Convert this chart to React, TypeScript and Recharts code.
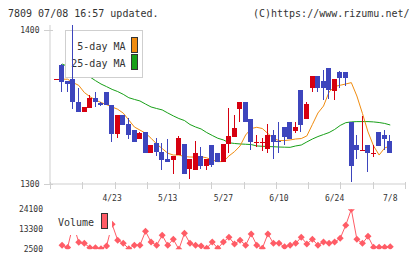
import { Bar, ComposedChart, Line, XAxis, YAxis } from "recharts";

// Trading sessions, oldest first
const dates = [
  "4/9", "4/10", "4/11", "4/12", "4/15", "4/16", "4/17", "4/18", "4/19", "4/22",
  "4/23", "4/24", "4/25", "4/26", "4/30", "5/1", "5/2", "5/7", "5/8", "5/9",
  "5/13", "5/14", "5/15", "5/16", "5/17", "5/20", "5/21", "5/22", "5/23", "5/24",
  "5/27", "5/28", "5/29", "5/30", "5/31", "6/3", "6/4", "6/5", "6/6", "6/7",
  "6/10", "6/11", "6/12", "6/13", "6/14", "6/17", "6/18", "6/19", "6/20", "6/21",
  "6/24", "6/25", "6/26", "6/27", "6/28", "7/1", "7/2", "7/3", "7/4", "7/5", "7/8",
];

const opens = [
  1368, 1377, 1367, 1368, 1353, 1347, 1349.5, 1356, 1352.5, 1359.5,
  1351, 1332.5, 1345, 1339, 1335, 1329, 1334, 1320, 1326.5, 1320.5,
  1316, 1315.5, 1319, 1326, 1310, 1309, 1318, 1312, 1325, 1320,
  1314.5, 1326, 1330.5, 1349, 1353.5, 1342.5, 1327, 1327, 1323, 1332,
  1328, 1337, 1340.5, 1334.5, 1361, 1342, 1362.5, 1370, 1367, 1375,
  1360.5, 1372.5, 1372.5, 1340.5, 1325.5, 1322, 1325.5, 1320, 1333.5, 1332, 1328,
];
const highs = [
  1368, 1378, 1367, 1403, 1362, 1350, 1357.5, 1360, 1353, 1359.5,
  1351, 1344.5, 1345, 1343, 1335, 1334, 1334, 1325.5, 1330, 1326.5,
  1329.5, 1318, 1331, 1326, 1316, 1328, 1324, 1316, 1325, 1320,
  1326, 1349.5, 1345, 1353.5, 1353.5, 1342.5, 1332, 1330, 1339, 1335,
  1340.5, 1337, 1340.5, 1340.5, 1361, 1353.5, 1370, 1370, 1374, 1375,
  1368, 1373.5, 1372.5, 1340.5, 1332, 1344, 1325.5, 1325.5, 1333.5, 1335, 1332,
];
const lows = [
  1368, 1360, 1360, 1348.5, 1347, 1347, 1349.5, 1350, 1350.5, 1351,
  1327, 1330, 1338, 1329, 1327.5, 1329, 1320, 1320, 1318, 1309,
  1314.5, 1306.5, 1319, 1306.5, 1303, 1309, 1310, 1309, 1311, 1314.5,
  1314.5, 1320, 1330.5, 1340.5, 1340, 1322, 1324, 1321.5, 1320, 1316.5,
  1320, 1325.5, 1329.5, 1333, 1333.5, 1342, 1360, 1360, 1354.5, 1355,
  1354.5, 1362, 1363.5, 1301, 1316.5, 1322, 1307.5, 1317.5, 1324.5, 1322, 1320,
];
const closes = [
  1368, 1366, 1365, 1353.5, 1347, 1350, 1356, 1353, 1351, 1351,
  1332.5, 1344.5, 1338, 1331.5, 1327.5, 1333, 1320, 1325.5, 1320.5, 1315.5,
  1314.5, 1318, 1330, 1306.5, 1316, 1320, 1311.5, 1316, 1312.5, 1314.5,
  1326, 1331, 1336.5, 1353.5, 1340, 1327, 1327, 1327, 1332, 1327.5,
  1327, 1330.5, 1329.5, 1337, 1338.5, 1352, 1370, 1362, 1362, 1361,
  1368, 1369, 1369, 1311.5, 1322, 1322, 1320, 1320, 1324.5, 1329.5, 1320,
];

const ma5 = [
  null, 1368, 1368, 1365.8, 1364, 1359.4, 1356.7, 1354.5, 1352.9, 1351.5,
  1350, 1348.5, 1346, 1341.5, 1337, 1335, 1333, 1329.7, 1326, 1323,
  1320, 1318.8, 1318.8, 1317.8, 1317.5, 1317.5, 1317.7, 1317, 1315.6, 1314.5,
  1314.6, 1318.2, 1321, 1324.7, 1331.8, 1336, 1336.8, 1336, 1332.8, 1329.5,
  1328.2, 1328.2, 1328.6, 1329.2, 1329.5, 1331.2, 1338.6, 1346.1, 1350.6, 1359.7,
  1363.3, 1364.1, 1364.9, 1365.8, 1357.1, 1345.8, 1333.8, 1324.7, 1318.8, 1323.4, 1324.7,
];
const ma25 = [
  null, 1377.9, 1376.3, 1374.7, 1373.1, 1371.4, 1369.5, 1367.1, 1364.9, 1363.2,
  1361.4, 1360, 1358.2, 1356, 1354.9, 1353.9, 1351.9, 1350, 1349, 1348.1,
  1346.1, 1344.2, 1342.5, 1341.2, 1338.6, 1337, 1335.7, 1333.4, 1331.5, 1329.7,
  1328.6, 1326.8, 1326.3, 1326, 1325.8, 1325.6, 1324.7, 1324.5, 1324.3, 1324.2,
  1324, 1323.9, 1323.8, 1324.7, 1325.3, 1327.3, 1329.2, 1330.8, 1332.1, 1333.4,
  1335.4, 1338, 1339.8, 1340.3, 1340.5, 1340.5, 1340.5, 1340.3, 1339.9, 1339.3, 1338.3,
];

const volumes = [
  null, 4700, 3500, 16000, 6300, 5700, 3400, 3400, 2800, 4300,
  16000, 7400, 5700, 2800, 4700, 4700, 12200, 6400, 4700, 10100,
  4700, 7900, 2500, 11100, 5700, 4700, 4300, 3000, 6400, 3000,
  6400, 9000, 5400, 7400, 4700, 10800, 4700, 3000, 10800, 5700,
  5700, 3900, 4700, 5700, 9000, 5400, 7900, 4700, 6400, 5700,
  6400, 8400, 15500, 24100, 7900, 5700, 9500, 3600, 3600, 3600, 3900,
];

const dateTicks = ["4/23", "5/13", "5/27", "6/10", "6/24", "7/8"];
const priceTicks = [1300, 1400];
const volumeTicks = [2500, 13300, 24100];
const gridTicks = [0, 1, 2, 3, 4, 5, 6, 7, 8, 9, 10, 11];

const rows = dates.map((date, i) => ({
  date,
  open: opens[i],
  high: highs[i],
  low: lows[i],
  close: closes[i],
  range: [lows[i], highs[i]],
  ma5: ma5[i],
  ma25: ma25[i],
  volume: volumes[i],
}));

// the frame layer only needs its grid positions on a numeric axis
const gridRows = gridTicks.map((k) => ({ k, base: priceTicks[0] }));

const W = 420;
const H = 259;
const MONO = '"DejaVu Sans Mono", monospace';
const TEXT = "#333";
const AXIS = "#cfcfcf";
const UP = "#d60010";
const DOWN = "#3d45bd";
const MA5 = "#f08c10";
const MA25 = "#18a018";
const VOL = "#ff5c66";

const PRICE_DOMAIN: [number, number] = [1300, 1403.2];
const MAIN_MARGIN = { top: 25, right: 15, bottom: 55, left: 0 };
const VOL_MARGIN = { top: 209.3, right: 15, bottom: 9.7, left: 0 };
const X_PAD = { left: 3.72, right: 11.96 };

function Candle(props: any) {
  const { x, y, width, height, payload } = props;
  if (x == null || y == null || !payload) return null;
  const { open, close, high, low } = payload;
  const color = close >= open ? UP : DOWN;
  const k = high > low ? height / (high - low) : 0;
  const py = (p: number) => y + (high - p) * k;
  const left = Math.round(x);
  const w = Math.max(1, Math.round(width));
  const mid = left + Math.floor(w / 2);
  const wickTop = Math.round(y);
  const wickBottom = Math.round(y + height);
  const top = Math.round(py(Math.max(open, close)));
  const bottom = Math.round(py(Math.min(open, close)));
  return (
    <g shapeRendering="crispEdges">
      <rect x={mid} y={wickTop} width={1} height={Math.max(1, wickBottom - wickTop)} fill={color} />
      <rect x={left} y={top} width={w} height={Math.max(1, bottom - top)} fill={color} />
    </g>
  );
}

function Diamond(props: any) {
  const { cx, cy, value } = props;
  if (cx == null || cy == null || value == null) return <g />;
  const r = 3.5;
  return (
    <polygon
      points={`${cx},${cy - r} ${cx + r},${cy} ${cx},${cy + r} ${cx - r},${cy}`}
      fill={VOL}
    />
  );
}

// small marks crossing the bottom axis line
function GridTick(props: any) {
  const { x, y } = props;
  const px = Math.round(x) + 0.5;
  return <line x1={px} x2={px} y1={y - 2} y2={y + 5} stroke={AXIS} />;
}

function PriceTick(props: any) {
  const { x, y, payload } = props;
  const py = Math.round(y) + 0.5;
  return (
    <g>
      <line x1={x - 6} x2={x + 3} y1={py} y2={py} stroke={AXIS} />
      <text x={x - 10.5} y={y + 3} textAnchor="end" fontSize={8} fontFamily={MONO} fill={TEXT}>
        {payload.value}
      </text>
    </g>
  );
}

// axis lines, price labels and the evenly spaced bottom marks
function Frame() {
  return (
    <ComposedChart width={W} height={H} data={gridRows} margin={MAIN_MARGIN}>
      <XAxis
        dataKey="k"
        type="number"
        domain={[0, 11]}
        ticks={gridTicks}
        interval={0}
        allowDataOverflow
        height={20}
        axisLine={{ stroke: AXIS }}
        tickLine={false}
        tickSize={0}
        tickMargin={0}
        tick={GridTick}
      />
      <YAxis
        domain={PRICE_DOMAIN}
        allowDataOverflow
        ticks={priceTicks}
        interval={0}
        width={50}
        axisLine={{ stroke: AXIS }}
        tickLine={false}
        tickSize={0}
        tickMargin={0}
        tick={PriceTick}
      />
      <Line dataKey="base" stroke="none" dot={false} activeDot={false} isAnimationActive={false} />
    </ComposedChart>
  );
}

function PriceLines() {
  return (
    <ComposedChart width={W} height={H} data={rows} margin={MAIN_MARGIN}>
      <XAxis
        dataKey="date"
        type="category"
        scale="band"
        padding={X_PAD}
        ticks={dateTicks}
        interval={0}
        height={20}
        axisLine={false}
        tickLine={false}
        tickSize={0}
        tickMargin={11}
        tick={{ fill: TEXT, fontSize: 8, fontFamily: MONO }}
      />
      <YAxis
        domain={PRICE_DOMAIN}
        allowDataOverflow
        width={50}
        axisLine={false}
        tickLine={false}
        tick={false}
      />
      <Line
        dataKey="ma25"
        type="linear"
        stroke={MA25}
        strokeWidth={1}
        dot={false}
        activeDot={false}
        connectNulls={false}
        isAnimationActive={false}
      />
      <Line
        dataKey="ma5"
        type="linear"
        stroke={MA5}
        strokeWidth={1}
        dot={false}
        activeDot={false}
        connectNulls={false}
        isAnimationActive={false}
      />
    </ComposedChart>
  );
}

// candles sit in their own layer, above the MA legend box
function Candles() {
  return (
    <ComposedChart width={W} height={H} data={rows} margin={MAIN_MARGIN}>
      <XAxis
        dataKey="date"
        type="category"
        scale="band"
        padding={X_PAD}
        height={20}
        axisLine={false}
        tickLine={false}
        tick={false}
      />
      <YAxis
        domain={PRICE_DOMAIN}
        allowDataOverflow
        width={50}
        axisLine={false}
        tickLine={false}
        tick={false}
      />
      <Bar dataKey="range" barSize={5} shape={Candle} isAnimationActive={false} />
    </ComposedChart>
  );
}

function VolumeChart() {
  return (
    <ComposedChart width={W} height={H} data={rows} margin={VOL_MARGIN}>
      <XAxis dataKey="date" type="category" scale="band" padding={X_PAD} hide />
      <YAxis
        domain={[2500, 24100]}
        allowDataOverflow
        ticks={volumeTicks}
        interval={0}
        width={50}
        axisLine={false}
        tickLine={false}
        tickSize={0}
        tickMargin={7}
        tick={{ fill: TEXT, fontSize: 8, fontFamily: MONO }}
      />
      <Line
        dataKey="volume"
        type="linear"
        stroke={VOL}
        strokeWidth={1}
        dot={Diamond}
        activeDot={false}
        connectNulls={false}
        isAnimationActive={false}
      />
    </ComposedChart>
  );
}

const layer = (z: number): React.CSSProperties => ({ position: "absolute", left: 0, top: 0, zIndex: z });

export default function App() {
  return (
    <div
      style={{
        position: "fixed",
        left: 0,
        top: 0,
        width: W,
        height: H,
        background: "#fff",
        overflow: "hidden",
      }}
    >
      <svg width={W} height={H} style={layer(0)}>
        <text x={8} y={17} fontSize={10} fontFamily={MONO} fill={TEXT}>
          7809 07/08 16:57 updated.
        </text>
        <text x={409.5} y={17} fontSize={10} fontFamily={MONO} fill={TEXT} textAnchor="end">
          (C)https://www.rizumu.net/
        </text>
      </svg>
      <div style={layer(1)}>
        <Frame />
      </div>
      <div style={layer(2)}>
        <PriceLines />
      </div>
      <svg width={W} height={H} style={{ ...layer(3), pointerEvents: "none" }}>
        <rect x={65.5} y={30.5} width={77} height={47} fill="#fff" stroke={AXIS} />
        <text x={125.5} y={49.5} fontSize={10} fontFamily={MONO} fill={TEXT} textAnchor="end">
          5-day MA
        </text>
        <text x={125.5} y={66.5} fontSize={10} fontFamily={MONO} fill={TEXT} textAnchor="end">
          25-day MA
        </text>
        <rect x={131.5} y={37.5} width={6} height={15} fill={MA5} stroke="#333" />
        <rect x={131.5} y={54.5} width={6} height={15} fill={MA25} stroke="#333" />
      </svg>
      <div style={{ ...layer(4), pointerEvents: "none" }}>
        <Candles />
      </div>
      <div style={layer(5)}>
        <VolumeChart />
      </div>
      <svg width={W} height={H} style={{ ...layer(6), pointerEvents: "none" }}>
        <rect x={55} y={207} width={57} height={28} fill="#fff" />
        <text x={58} y={225.5} fontSize={10} fontFamily={MONO} fill={TEXT}>
          Volume
        </text>
        <rect x={101.5} y={213.5} width={6} height={15} fill={VOL} stroke="#333" />
      </svg>
    </div>
  );
}
